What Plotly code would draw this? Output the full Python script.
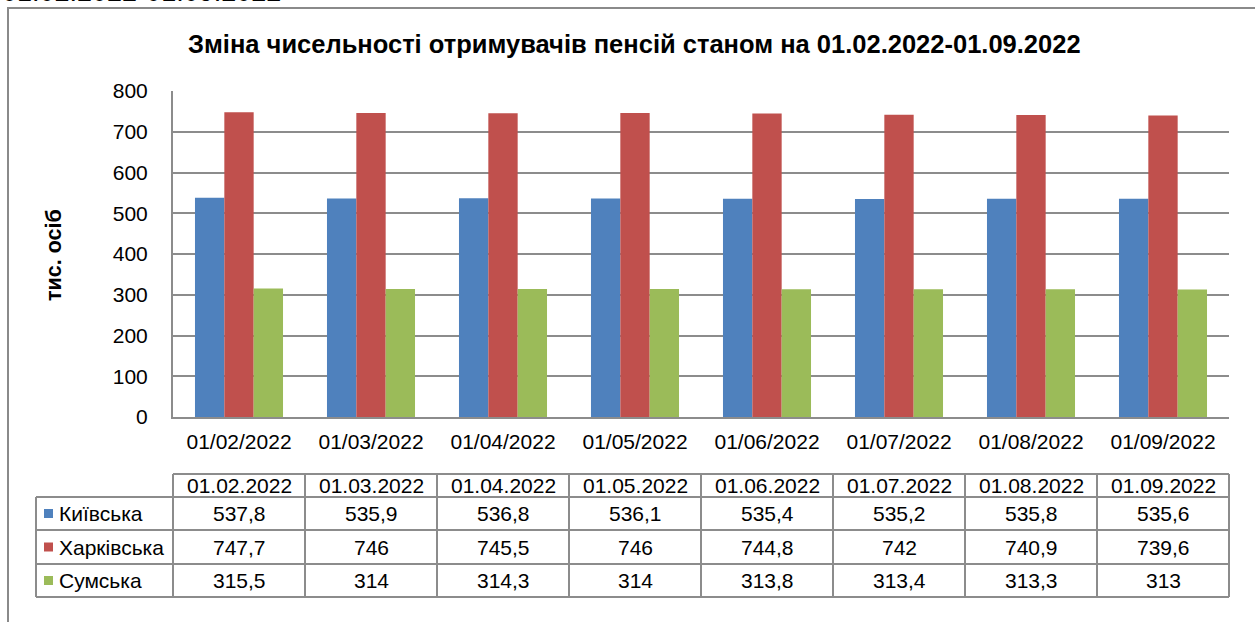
import plotly.graph_objects as go

# ---------------- data ----------------
categories = ["01/02/2022", "01/03/2022", "01/04/2022", "01/05/2022",
              "01/06/2022", "01/07/2022", "01/08/2022", "01/09/2022"]
table_headers = ["01.02.2022", "01.03.2022", "01.04.2022", "01.05.2022",
                 "01.06.2022", "01.07.2022", "01.08.2022", "01.09.2022"]
series_names = ["Київська", "Харківська", "Сумська"]
kyiv = [537.8, 535.9, 536.8, 536.1, 535.4, 535.2, 535.8, 535.6]
kharkiv = [747.7, 746, 745.5, 746, 744.8, 742, 740.9, 739.6]
sumy = [315.5, 314, 314.3, 314, 313.8, 313.4, 313.3, 313]
y_ticks = [0, 100, 200, 300, 400, 500, 600, 700, 800]

title_text = "Зміна чисельності отримувачів пенсій станом на 01.02.2022-01.09.2022"
y_title = "тис. осіб"
top_text = "01.02.2022-01.09.2022"

colors = ["#4F81BD", "#C0504D", "#9BBB59"]
series = [kyiv, kharkiv, sumy]

# ---------------- geometry ----------------
W, H = 1255, 622
L, R, T, B = 173, 1229, 91, 417  # plot area in pixels
FONT = "Liberation Sans, Arial, sans-serif"
FS = 21
GRID = "#8C8C8C"


def px(x):
    return (x - L) / (R - L)


def py(y):
    return (B - y) / (B - T)


fig = go.Figure()
for name, vals, col in zip(series_names, series, colors):
    fig.add_trace(go.Bar(x=categories, y=vals, name=name, marker_color=col,
                         marker_line_width=0, showlegend=False))

fig.update_layout(
    width=W, height=H,
    margin=dict(l=L, r=W - R, t=T, b=H - B, pad=0),
    paper_bgcolor="white", plot_bgcolor="white",
    barmode="group", bargap=0.333, bargroupgap=0,
    font=dict(family=FONT, size=FS, color="#000000"),
)
fig.update_xaxes(type="category", showgrid=False, showline=True, linecolor=GRID,
                 linewidth=2, ticks="", ticklabelstandoff=5,
                 tickfont=dict(size=FS, family=FONT), mirror=False)
fig.update_yaxes(range=[0, 800], tickvals=y_ticks, showgrid=True, gridcolor=GRID,
                 gridwidth=2, showline=True, linecolor=GRID, linewidth=2, ticks="",
                 ticklabelstandoff=19, tickfont=dict(size=FS, family=FONT),
                 zeroline=False)

shapes = []
annotations = []

# outer frame of the chart
shapes.append(dict(type="rect", xref="paper", yref="paper",
                   x0=px(8), x1=px(1265), y0=py(8), y1=py(640),
                   line=dict(color="#8A8A8A", width=2), fillcolor="rgba(0,0,0,0)",
                   layer="below"))

# title
annotations.append(dict(text="<b>" + title_text + "</b>", xref="paper", yref="paper",
                        x=px(634), y=py(44), xanchor="center", yanchor="middle",
                        showarrow=False, font=dict(size=25.5, family=FONT)))
# cropped text at the very top
annotations.append(dict(text=top_text, xref="paper", yref="paper",
                        x=px(0), y=py(9), xanchor="left", yanchor="bottom",
                        showarrow=False, font=dict(size=27, family=FONT)))
# y axis title
annotations.append(dict(text="<b>" + y_title + "</b>", xref="paper", yref="paper",
                        x=px(54), y=py(255), xanchor="center", yanchor="middle",
                        textangle=-90, showarrow=False, font=dict(size=21.5, family=FONT)))

# ---------------- data table ----------------
n = len(categories)
leg_left = 36
row_edges = [474, 497, 530, 564, 597]
line = dict(color=GRID, width=2)


def hline(x0, x1, y):
    shapes.append(dict(type="line", xref="paper", yref="paper",
                       x0=x0, x1=x1, y0=py(y), y1=py(y), line=line))


def vline(x, y0, y1):
    shapes.append(dict(type="line", xref="paper", yref="paper",
                       x0=x, x1=x, y0=py(y0), y1=py(y1), line=line))


hline(0, 1, row_edges[0])
for y in row_edges[1:]:
    hline(px(leg_left), 1, y)
vline(px(leg_left), row_edges[1], row_edges[-1])
for i in range(n + 1):
    vline(i / n, row_edges[0], row_edges[-1])

# header texts
hy = (row_edges[0] + row_edges[1]) / 2
for i, h in enumerate(table_headers):
    annotations.append(dict(text=h, xref="paper", yref="paper",
                            x=(i + 0.5) / n, y=py(hy), xanchor="center",
                            yanchor="middle", showarrow=False,
                            font=dict(size=FS, family=FONT)))


def fmt(v):
    return ("%g" % v).replace(".", ",")


for r, (name, vals, col) in enumerate(zip(series_names, series, colors)):
    cy = (row_edges[r + 1] + row_edges[r + 2]) / 2
    # legend key
    shapes.append(dict(type="rect", xref="paper", yref="paper",
                       x0=px(44), x1=px(53), y0=py(cy - 4.5), y1=py(cy + 4.5),
                       line=dict(width=0), fillcolor=col))
    annotations.append(dict(text=name, xref="paper", yref="paper",
                            x=px(57), y=py(cy), xanchor="left", yanchor="middle",
                            showarrow=False, font=dict(size=FS, family=FONT)))
    for i, v in enumerate(vals):
        annotations.append(dict(text=fmt(v), xref="paper", yref="paper",
                                x=(i + 0.5) / n, y=py(cy), xanchor="center",
                                yanchor="middle", showarrow=False,
                                font=dict(size=FS, family=FONT)))

fig.update_layout(shapes=shapes, annotations=annotations)
fig.write_html("out.html", config={"displayModeBar": False},
               post_script="document.body.style.margin='0';document.body.style.overflow='hidden';")
